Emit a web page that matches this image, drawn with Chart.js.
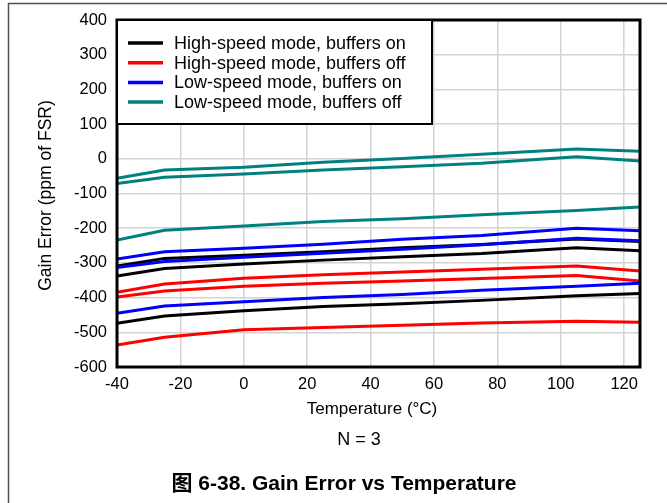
<!DOCTYPE html>
<html>
<head>
<meta charset="utf-8">
<title>Gain Error vs Temperature</title>
<script src="https://cdn.jsdelivr.net/npm/chart.js@4.4.0/dist/chart.umd.min.js"></script>
<style>
body{margin:0;background:#fff;}
#wrap{width:667px;height:503px;}
</style>
</head>
<body>

<div id="wrap">
<canvas id="gainChart" width="667" height="503"></canvas>
</div>

<script>

// Data

const temps = [-40,-25,0,25,50,75,105,125];

const xTicks = [-40,-20,0,20,40,60,80,100,120];
const yTicks = [-600,-500,-400,-300,-200,-100,0,100,200,300,400];

const seriesNames = [
"High-speed mode, buffers on",
"High-speed mode, buffers off",
"Low-speed mode, buffers on",
"Low-speed mode, buffers off"
];

const seriesColors = ["#000000","#ff0000","#0000ff","#008080"];

// high-speed, buffers on (3 units)
const hsOn1 = [-309,-287,-278,-268,-256,-247,-231,-238];
const hsOn2 = [-338,-316,-303,-292,-282,-273,-256,-265];
const hsOn3 = [-474,-453,-438,-426,-418,-408,-395,-388];

// high-speed, buffers off
const hsOff1 = [-385,-361,-344,-334,-326,-318,-309,-323];
const hsOff2 = [-398,-381,-367,-359,-352,-345,-336,-352];
const hsOff3 = [-537,-514,-493,-486,-480,-473,-468,-471];

// low-speed, buffers on
const lsOn1 = [-289,-268,-258,-246,-232,-221,-200,-207];
const lsOn2 = [-313,-296,-284,-272,-261,-248,-229,-236];
const lsOn3 = [-445,-424,-412,-400,-391,-379,-367,-359];

// low-speed, buffers off
const lsOff1 = [-56,-32,-24,-10,1,13,28,22];
const lsOff2 = [-71,-53,-44,-32,-23,-13,6,-6];
const lsOff3 = [-234,-206,-194,-181,-173,-161,-149,-139];

const FONT = "'Liberation Sans', Arial, sans-serif";

function makeLine(values,color,name){
return {
label:name,
data:temps.map((t,i)=>({x:t,y:values[i]})),
borderColor:color,
backgroundColor:color,
borderWidth:3,
pointRadius:0,
tension:0,
fill:false
};
}

// blue first so it sits on top of the black
const datasets = [
makeLine(lsOn1,seriesColors[2],seriesNames[2]),
makeLine(lsOn2,seriesColors[2],seriesNames[2]),
makeLine(lsOn3,seriesColors[2],seriesNames[2]),
makeLine(lsOff1,seriesColors[3],seriesNames[3]),
makeLine(lsOff2,seriesColors[3],seriesNames[3]),
makeLine(lsOff3,seriesColors[3],seriesNames[3]),
makeLine(hsOff1,seriesColors[1],seriesNames[1]),
makeLine(hsOff2,seriesColors[1],seriesNames[1]),
makeLine(hsOff3,seriesColors[1],seriesNames[1]),
makeLine(hsOn1,seriesColors[0],seriesNames[0]),
makeLine(hsOn2,seriesColors[0],seriesNames[0]),
makeLine(hsOn3,seriesColors[0],seriesNames[0])
];

// Frame, legend and captions

const decorPlugin = {
id:"decor",
afterDraw(chart){

const ctx = chart.ctx;
const a = chart.chartArea;

ctx.save();

// outer page frame
ctx.strokeStyle = "#505050";
ctx.lineWidth = 1.5;
ctx.beginPath();
ctx.moveTo(8.5,503);
ctx.lineTo(8.5,3.5);
ctx.lineTo(667,3.5);
ctx.stroke();

// plot border
ctx.strokeStyle = "#000";
ctx.lineWidth = 3;
ctx.strokeRect(a.left,a.top,a.right-a.left,a.bottom-a.top);

// legend box
const lx = a.left, ly = a.top, lw = 315, lh = 104;
ctx.fillStyle = "#fff";
ctx.fillRect(lx,ly,lw,lh);
ctx.lineWidth = 2;
ctx.strokeRect(lx,ly,lw,lh);

ctx.font = "18px " + FONT;
ctx.textBaseline = "middle";
ctx.textAlign = "left";
for(let i=0;i<seriesNames.length;i++){
let y = ly + 23 + i*19.7;
ctx.strokeStyle = seriesColors[i];
ctx.lineWidth = 3.5;
ctx.beginPath();
ctx.moveTo(lx+11,y);
ctx.lineTo(lx+46,y);
ctx.stroke();
ctx.fillStyle = "#000";
ctx.fillText(seriesNames[i],lx+57,y+1);
}

// axis titles
ctx.fillStyle = "#000";
ctx.textAlign = "center";
ctx.font = "17px " + FONT;
ctx.fillText("Temperature (\u00B0C)",372,409);

ctx.save();
ctx.translate(46,(a.top+a.bottom)/2 + 2);
ctx.rotate(-Math.PI/2);
ctx.font = "17.5px " + FONT;
ctx.fillText("Gain Error (ppm of FSR)",0,0);
ctx.restore();

ctx.font = "18px " + FONT;
ctx.fillText("N = 3",359,440);

ctx.font = "bold 21px " + FONT + ", 'Noto Sans CJK SC'";
ctx.fillText("\u56FE 6-38. Gain Error vs Temperature",344,484);

ctx.restore();

}
};

window.onload = function(){

new Chart(
document.getElementById("gainChart"),
{
type:"line",
data:{datasets:datasets},
options:{
responsive:false,
animation:false,
layout:{padding:{left:0,right:27,top:20,bottom:0}},
plugins:{
legend:{display:false},
tooltip:{enabled:false}
},
scales:{
x:{
type:"linear",
min:-40,
max:125,
afterBuildTicks:s=>{ s.ticks = xTicks.map(v=>({value:v})); },
afterFit:s=>{ s.height = 136; },
grid:{color:"#d3d3d3",lineWidth:1.5,drawTicks:false},
border:{display:false},
ticks:{color:"#000",font:{family:FONT,size:16.5},padding:8,maxRotation:0}
},
y:{
type:"linear",
min:-600,
max:400,
afterBuildTicks:s=>{ s.ticks = yTicks.map(v=>({value:v})); },
afterFit:s=>{ s.width = 117; },
grid:{color:"#d3d3d3",lineWidth:1.5,drawTicks:false},
border:{display:false},
ticks:{color:"#000",font:{family:FONT,size:16.5},padding:10}
}
}
},
plugins:[decorPlugin]
}
);

};

</script>
</body>
</html>
